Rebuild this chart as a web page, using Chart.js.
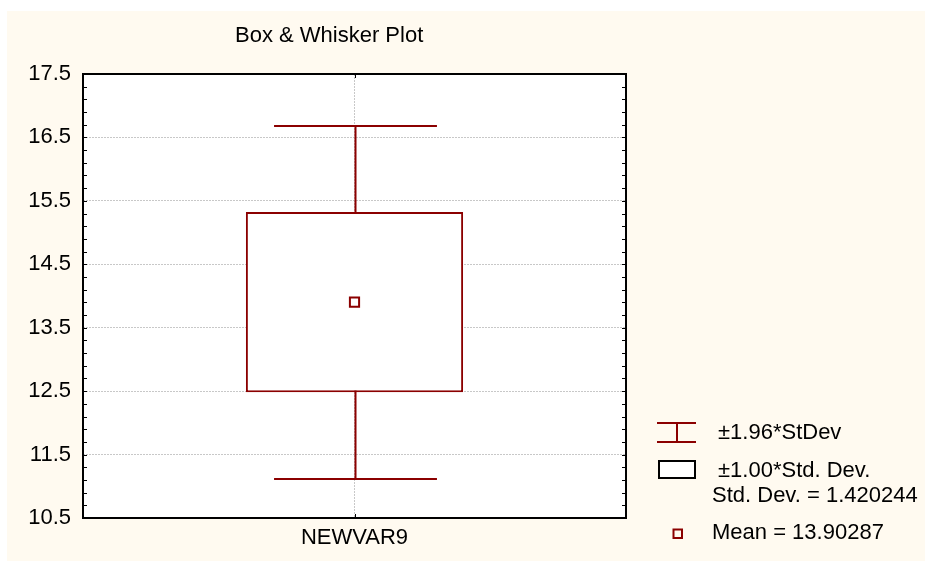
<!DOCTYPE html>
<html>
<head>
<meta charset="utf-8">
<script src="https://cdn.jsdelivr.net/npm/chart.js@4"></script>
<style>
html, body { margin: 0; padding: 0; background: #fff; }
#wrap { position: relative; width: 925px; height: 561px; }
#bg { position: absolute; left: 7px; top: 11px; right: 0; bottom: 0; background: #fffaf0; }
canvas { position: absolute; left: 0; top: 0; }
</style>
</head>
<body>
<div id="wrap"><div id="bg"></div><canvas id="myChart" width="925" height="561"></canvas></div>
<script>
// values
var categories = ["NEWVAR9"];
var means = [13.90287];
var boxLow = [12.482626];      // mean - 1.00*SD
var boxHigh = [15.323114];     // mean + 1.00*SD
var whiskerLow = [11.119192];  // mean - 1.96*SD
var whiskerHigh = [16.686548]; // mean + 1.96*SD
var yTicks = [10.5, 11.5, 12.5, 13.5, 14.5, 15.5, 16.5, 17.5];
var minorStep = 0.2;

var chartTitle = "Box & Whisker Plot";
var legendWhisker = "±1.96*StDev";
var legendBox = "±1.00*Std. Dev.";
var legendSd = "Std. Dev. = 1.420244";
var legendMean = "Mean = 13.90287";

var red = "#8b0000";
var fontFam = "'Liberation Sans', Arial, sans-serif";
var fontSize = 22;

var boxPlugin = {
    id: 'boxPlugin',
    beforeDraw(chart) {
        const c = chart.ctx, a = chart.chartArea;
        c.save();
        c.fillStyle = '#fff';
        c.fillRect(a.left, a.top, a.right - a.left, a.bottom - a.top);
        c.restore();
    },
    beforeDatasetsDraw(chart) {
        // whiskers, behind the box
        const c = chart.ctx, xs = chart.scales.x, ys = chart.scales.y;
        c.save();
        c.strokeStyle = red;
        c.lineWidth = 2;
        categories.forEach((cat, i) => {
            const cx = Math.round(xs.getPixelForValue(i)) + 0.5;
            const half = xs.width / categories.length * 0.3 / 2;
            const yl = Math.round(ys.getPixelForValue(whiskerLow[i]));
            const yh = Math.round(ys.getPixelForValue(whiskerHigh[i]));
            c.beginPath();
            c.moveTo(cx, yl); c.lineTo(cx, yh);
            c.moveTo(cx - half, yl); c.lineTo(cx + half, yl);
            c.moveTo(cx - half, yh); c.lineTo(cx + half, yh);
            c.stroke();
        });
        c.restore();
    },
    afterDatasetsDraw(chart) {
        const c = chart.ctx, a = chart.chartArea, xs = chart.scales.x, ys = chart.scales.y;
        c.save();
        c.strokeStyle = '#000';
        c.lineWidth = 2;
        c.strokeRect(a.left, a.top, a.right - a.left, a.bottom - a.top);
        // minor ticks pointing in, left and right
        c.lineWidth = 1;
        c.beginPath();
        var n = Math.round((ys.max - ys.min) / minorStep);
        for (var i = 0; i <= n; i++) {
            var y = Math.round(ys.getPixelForValue(ys.min + i * minorStep)) + 0.5;
            c.moveTo(a.left, y); c.lineTo(a.left + 4, y);
            c.moveTo(a.right - 4, y); c.lineTo(a.right, y);
        }
        categories.forEach((cat, j) => {
            var x = Math.round(xs.getPixelForValue(j)) + 0.5;
            c.moveTo(x, a.top); c.lineTo(x, a.top + 4);
            c.moveTo(x, a.bottom); c.lineTo(x, a.bottom - 4);
        });
        c.stroke();
        c.restore();
    },
    afterDraw(chart) {
        const c = chart.ctx;
        c.save();
        c.font = fontSize + "px " + fontFam;
        c.fillStyle = '#000';
        c.textBaseline = 'alphabetic';
        c.textAlign = 'left';
        c.fillText(chartTitle, 235, 42);

        // legend
        c.strokeStyle = red;
        c.lineWidth = 2;
        c.beginPath();
        c.moveTo(657, 423); c.lineTo(696, 423);
        c.moveTo(657, 442); c.lineTo(696, 442);
        c.moveTo(677, 423); c.lineTo(677, 442);
        c.stroke();
        c.fillText(legendWhisker, 718, 439);

        c.fillStyle = '#fff';
        c.fillRect(659, 461, 36, 17);
        c.strokeStyle = '#000';
        c.strokeRect(659, 461, 36, 17);
        c.fillStyle = '#000';
        c.fillText(legendBox, 718, 477);
        c.fillText(legendSd, 712, 502);

        c.strokeStyle = red;
        c.strokeRect(673.5, 529.5, 8.5, 8.5);
        c.fillText(legendMean, 712, 539);
        c.restore();
    }
};

const ctx = document.getElementById('myChart');

new Chart(ctx, {
    type: 'bar',
    data: {
        labels: categories,
        datasets: [
            {
                label: legendBox,
                data: categories.map((c, i) => [boxLow[i], boxHigh[i]]),
                backgroundColor: '#fff',
                borderColor: red,
                borderWidth: 2,
                borderSkipped: false,
                barPercentage: 0.4,
                categoryPercentage: 1,
                order: 2
            },
            {
                type: 'line',
                label: legendMean,
                data: means,
                showLine: false,
                pointStyle: 'rect',
                pointRadius: 6.5,
                pointBorderWidth: 2,
                pointBorderColor: red,
                pointBackgroundColor: '#fff',
                order: 1
            }
        ]
    },
    options: {
        responsive: false,
        animation: false,
        devicePixelRatio: 1,
        layout: { padding: { top: 74, right: 299, left: 0, bottom: 0 } },
        plugins: {
            legend: { display: false },
            title: { display: false },
            tooltip: { enabled: false }
        },
        scales: {
            x: {
                offset: true,
                grid: { offset: false, color: '#c8c8c8', drawTicks: false },
                border: { display: false, dash: [2, 1] },
                ticks: { color: '#000', font: { family: fontFam, size: fontSize }, padding: 7 },
                afterFit: s => { s.height = 43; }
            },
            y: {
                min: 10.5,
                max: 17.5,
                afterBuildTicks: s => { s.ticks = yTicks.map(v => ({ value: v })); },
                grid: { color: '#c8c8c8', drawTicks: false },
                border: { display: false, dash: [2, 1] },
                ticks: {
                    color: '#000',
                    font: { family: fontFam, size: fontSize },
                    padding: 12,
                    callback: v => Number(v).toFixed(1)
                },
                afterFit: s => { s.width = 83; }
            }
        }
    },
    plugins: [boxPlugin]
});
</script>
</body>
</html>
